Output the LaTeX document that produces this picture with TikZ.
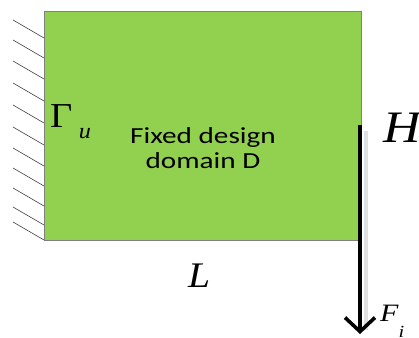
\documentclass[tikz,border=0pt]{standalone}
\usepackage{fontspec}
\newfontfamily\carlito{Carlito}
\newfontfamily\tnr{Liberation Serif}
\usetikzlibrary{arrows.meta}
\begin{document}
\begin{tikzpicture}[x=1pt,y=-1pt,
  domainbox/.style={draw=black!50, line width=0.8pt, fill={rgb,255:red,146;green,208;blue,80}},
  hatch/.style={draw=black!75, line width=0.6pt},
  force/.style={line width=3.6pt, -{Straight Barb[length=14pt,width=30pt,line width=3.6pt]}},
  shadowline/.style={draw=black!12, line width=3.5pt},
  lab/.style={inner sep=0pt, anchor=base west},
  bodytext/.style={inner sep=0pt, anchor=base, font=\carlito\fontsize{23}{25}\selectfont}]
\useasboundingbox (0,0) rectangle (419,337);
\node[domainbox, minimum width=317pt, minimum height=229pt, inner sep=0pt] (dom) at (202.5,125.5) {};
\foreach \y in {20,40,61,83,105,127,148,168,188,207,222}
  \draw[hatch] (13,\y) -- (44,\y+18);
\node[bodytext] (txt1) at (203,143) {\scalebox{1.27}[1]{Fixed design}};
\node[bodytext] (txt2) at (203,168) {\scalebox{1.27}[1]{domain D}};
\node[lab, font=\tnr\fontsize{35}{35}\selectfont] (gam) at (50,127) {\scalebox{1.1}[1]{Γ\,\raisebox{-11pt}{\fontsize{22}{22}\selectfont\itshape u}}};
\node[lab, font=\tnr\itshape\fontsize{45}{45}\selectfont] (H) at (383,142) {\scalebox{1.15}[1]{H}};
\node[lab, font=\tnr\itshape\fontsize{36}{36}\selectfont] (L) at (188,287) {\scalebox{1.1}[1]{L}};
\node[lab, font=\tnr\itshape\fontsize{25}{25}\selectfont] (F) at (380,321) {\scalebox{1.2}[1]{F\raisebox{-16pt}{\fontsize{17}{17}\selectfont i}}};
\coordinate (s1) at (366,131);
\coordinate (s2) at (366,330);
\draw[shadowline] (s1) -- (s2);
\coordinate (ftop) at (360,125);
\coordinate (fbot) at (360,334);
\draw[force] (ftop) -- (fbot);
\end{tikzpicture}
\end{document}
